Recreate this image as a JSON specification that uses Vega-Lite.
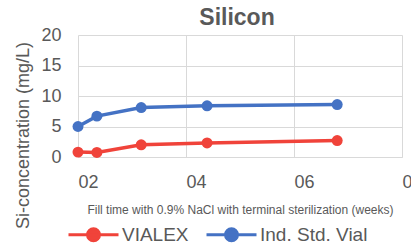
{
  "$schema": "https://vega.github.io/schema/vega-lite/v6.json",
  "width": 324,
  "height": 122,
  "autosize": {"type": "none"},
  "padding": {"left": 78, "top": 35, "right": 9, "bottom": 87},
  "background": "white",
  "config": {
    "font": "Liberation Sans",
    "view": {"stroke": null},
    "axis": {"gridColor": "#D9D9D9", "gridWidth": 1, "labelColor": "#595959", "titleColor": "#595959", "ticks": false, "labelFontSize": 18, "titleFontWeight": "normal"}
  },
  "title": {"text": "Silicon", "fontSize": 23, "fontWeight": "bold", "color": "#595959", "offset": -4, "frame": "group", "anchor": "middle", "dx": -3},
  "data": {
    "values": [
      {"week": 2.0, "si": 5.0, "vial": "Ind. Std. Vial"},
      {"week": 2.35, "si": 6.7, "vial": "Ind. Std. Vial"},
      {"week": 3.17, "si": 8.1, "vial": "Ind. Std. Vial"},
      {"week": 4.39, "si": 8.4, "vial": "Ind. Std. Vial"},
      {"week": 6.8, "si": 8.6, "vial": "Ind. Std. Vial"},
      {"week": 2.0, "si": 0.8, "vial": "VIALEX"},
      {"week": 2.35, "si": 0.75, "vial": "VIALEX"},
      {"week": 3.17, "si": 2.0, "vial": "VIALEX"},
      {"week": 4.39, "si": 2.3, "vial": "VIALEX"},
      {"week": 6.8, "si": 2.7, "vial": "VIALEX"}
    ]
  },
  "mark": {"type": "line", "strokeWidth": 3.5, "point": {"filled": true, "size": 120, "opacity": 1}},
  "encoding": {
    "x": {
      "field": "week", "type": "quantitative",
      "scale": {"domain": [2, 8], "nice": false, "zero": false},
      "axis": {
        "values": [2, 4, 6, 8], "format": "02d", "labelAlign": "left", "labelPadding": 16,
        "domainColor": "#D9D9D9", "labelFlush": false,
        "title": "Fill time with 0.9% NaCl with terminal sterilization (weeks)",
        "titleFontSize": 12, "titleY": 56, "titleBaseline": "alphabetic"
      }
    },
    "y": {
      "field": "si", "type": "quantitative",
      "scale": {"domain": [0, 20], "nice": false},
      "axis": {
        "values": [0, 5, 10, 15, 20], "domain": false, "labelPadding": 17,
        "title": "Si-concentration (mg/L)", "titleFontSize": 18,
        "titleX": -46, "titleY": 100, "titleAlign": "center", "titleBaseline": "bottom", "titleAngle": 270
      }
    },
    "color": {
      "field": "vial", "type": "nominal",
      "scale": {"domain": ["VIALEX", "Ind. Std. Vial"], "range": ["#F0433A", "#4472C4"]},
      "legend": {
        "title": null, "orient": "none", "direction": "horizontal",
        "legendX": -11, "legendY": 173,
        "symbolType": "M-1,0H1M0.24,0A0.24,0.24,0,1,1,-0.24,0A0.24,0.24,0,1,1,0.24,0Z",
        "symbolSize": 2500, "symbolStrokeWidth": 3,
        "labelFontSize": 19, "labelColor": "#595959", "labelOffset": 2, "columnPadding": 11,
        "encode": {"symbols": {"update": {"fill": {"scale": "color", "field": "value"}, "stroke": {"scale": "color", "field": "value"}, "opacity": {"value": 1}}}}
      }
    }
  }
}
